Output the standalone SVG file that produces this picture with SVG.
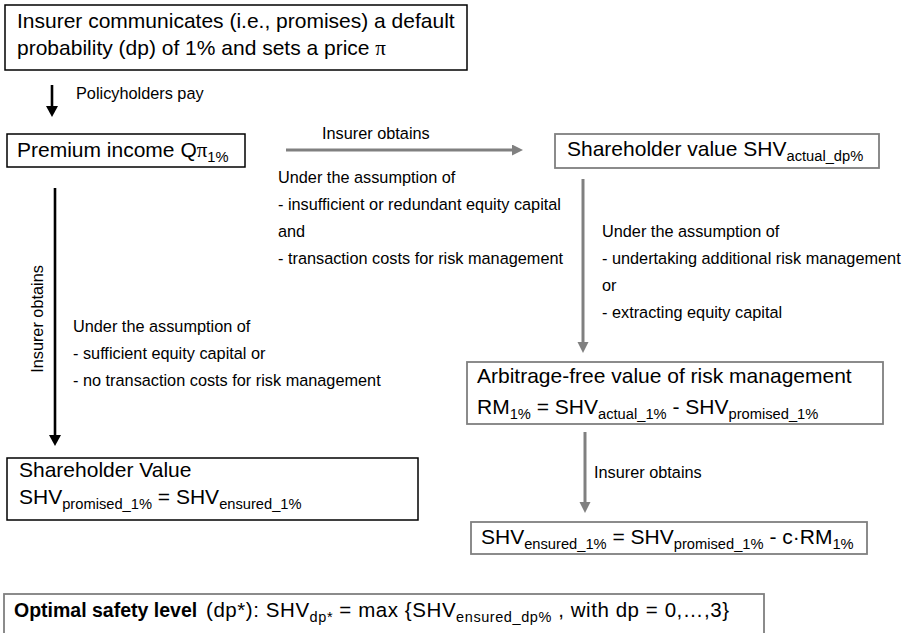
<svg xmlns="http://www.w3.org/2000/svg" width="904" height="633" viewBox="0 0 904 633">
<style>
text{font-family:"Liberation Sans",Arial,sans-serif;fill:#000}
.m{font-size:21px}
.s{font-size:16.3px}
.sub{font-size:14.7px}
.bk{fill:#fff;stroke:#000;stroke-width:1.5}
.gy{fill:#fff;stroke:#7f7f7f;stroke-width:1.8}
.lb{stroke:#000;stroke-width:2.6;fill:none}
.lg{stroke:#808080;stroke-width:3;fill:none}
.pi{font-family:"Liberation Serif","Times New Roman",serif}
</style>
<defs>
<marker id="hb" markerUnits="userSpaceOnUse" markerWidth="12" markerHeight="12" refX="0" refY="6" orient="auto"><path d="M0,0 L11,6 L0,12 z" fill="#000"/></marker>
<marker id="hg" markerUnits="userSpaceOnUse" markerWidth="12" markerHeight="12" refX="0" refY="5.5" orient="auto"><path d="M0,0 L11,5.5 L0,11 z" fill="#808080"/></marker>
</defs>
<g id="connectors">
<line class="lb" x1="52" y1="85" x2="52" y2="106" marker-end="url(#hb)"/>
<line class="lb" x1="55" y1="188" x2="55" y2="435" marker-end="url(#hb)"/>
<line class="lg" x1="286" y1="150" x2="512" y2="150" marker-end="url(#hg)"/>
<line class="lg" x1="583" y1="179" x2="583" y2="342" marker-end="url(#hg)"/>
<line class="lg" x1="585" y1="432" x2="585" y2="502" marker-end="url(#hg)"/>
<text class="s" x="76" y="99">Policyholders pay</text>
<text class="s" x="322" y="139">Insurer obtains</text>
<text class="s" transform="translate(43,319) rotate(-90)" text-anchor="middle">Insurer obtains</text>
<text class="s" x="594" y="478">Insurer obtains</text>
<g id="cond-top">
<text class="s" x="278" y="183">Under the assumption of</text>
<text class="s" x="278" y="210">- insufficient or redundant equity capital</text>
<text class="s" x="278" y="237">and</text>
<text class="s" x="278" y="264">- transaction costs for risk management</text>
</g>
<g id="cond-right">
<text class="s" x="602" y="237">Under the assumption of</text>
<text class="s" x="602" y="264">- undertaking additional risk management</text>
<text class="s" x="602" y="291">or</text>
<text class="s" x="602" y="318">- extracting equity capital</text>
</g>
<g id="cond-left">
<text class="s" x="73" y="332">Under the assumption of</text>
<text class="s" x="73" y="359">- sufficient equity capital or</text>
<text class="s" x="73" y="386">- no transaction costs for risk management</text>
</g>
</g>
<g id="promise">
<rect class="bk" x="5" y="5" width="462" height="65"/>
<text class="m" x="17" y="28">Insurer communicates (i.e., promises) a default</text>
<text class="m" x="17" y="55">probability (dp) of 1% and sets a price <tspan class="pi">π</tspan></text>
</g>
<g id="premium">
<rect class="bk" x="7" y="134" width="238" height="33"/>
<text class="m" x="17" y="157">Premium income Q<tspan class="pi">π</tspan><tspan class="sub" dy="5">1%</tspan></text>
</g>
<g id="shv-actual">
<rect class="gy" x="555" y="134" width="324" height="34"/>
<text class="m" x="567" y="156">Shareholder value SHV<tspan class="sub" dy="5">actual_dp%</tspan></text>
</g>
<g id="arbitrage">
<rect class="gy" x="467" y="362" width="416" height="62"/>
<text class="m" x="477" y="383">Arbitrage-free value of risk management</text>
<text class="m" x="477" y="414">RM<tspan class="sub" dy="5">1%</tspan><tspan dy="-5"> = SHV</tspan><tspan class="sub" dy="5">actual_1%</tspan><tspan dy="-5"> - SHV</tspan><tspan class="sub" dy="5">promised_1%</tspan></text>
</g>
<g id="shv-ensured">
<rect class="gy" x="471" y="522" width="396" height="32"/>
<text class="m" x="481" y="544">SHV<tspan class="sub" dy="5">ensured_1%</tspan><tspan dy="-5"> = SHV</tspan><tspan class="sub" dy="5">promised_1%</tspan><tspan dy="-5"> - c·RM</tspan><tspan class="sub" dy="5">1%</tspan></text>
</g>
<g id="shv-value">
<rect class="bk" x="7" y="458" width="411" height="62"/>
<text class="m" x="19" y="477">Shareholder Value</text>
<text class="m" x="19" y="504">SHV<tspan class="sub" dy="5">promised_1%</tspan><tspan dy="-5"> = SHV</tspan><tspan class="sub" dy="5">ensured_1%</tspan></text>
</g>
<g id="optimal">
<rect class="gy" x="4" y="594" width="760" height="50"/>
<text x="14" y="617" style="font-size:19.5px;font-weight:bold">Optimal safety level</text>
<text x="206" y="617" style="font-size:20.5px" textLength="523" lengthAdjust="spacing">(dp*): SHV<tspan font-size="14.5" dy="5">dp*</tspan><tspan dy="-5"> = max {SHV</tspan><tspan font-size="14.5" dy="5">ensured_dp%</tspan><tspan dy="-5"> , with dp = 0,…,3}</tspan></text>
</g>
</svg>
